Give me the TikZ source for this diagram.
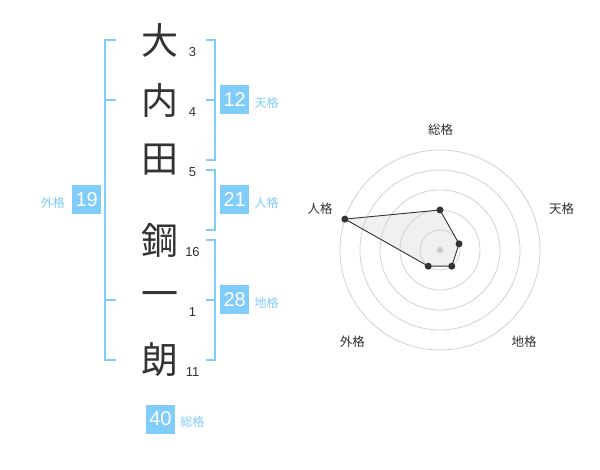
\documentclass[tikz,border=0pt]{standalone}
\usepackage{fontspec}
\setmainfont{Liberation Sans}
\newfontfamily\jpfont{Noto Sans CJK JP}
\usetikzlibrary{positioning}
\usepackage{xcolor}
\definecolor{ink}{RGB}{51,51,51}
\definecolor{kblue}{RGB}{128,204,250}
\definecolor{ringgray}{RGB}{210,210,210}
\definecolor{webfill}{RGB}{240,240,240}
\definecolor{hubgray}{RGB}{200,200,200}

\begin{document}
\begin{tikzpicture}[
    x=1pt, y=-1pt,
    node distance=60pt,
    kanji/.style={inner sep=0pt, text=ink, font=\jpfont\fontsize{37}{37}\selectfont},
    stroke/.style={inner sep=0pt, text=ink, font=\fontsize{13}{13}\selectfont},
    score/.style={rectangle, minimum size=29pt, inner sep=0pt, fill=kblue, text=white, font=\fontsize{20}{20}\selectfont},
    tag/.style={inner sep=0pt, text=kblue, font=\jpfont\fontsize{12}{12}\selectfont},
    axislabel/.style={inner sep=0pt, text=ink, font=\jpfont\fontsize{12.5}{12.5}\selectfont},
    bracket/.style={draw=kblue, line width=2pt},
    ring/.style={draw=ringgray, line width=0.8pt},
    dot/.style={circle, fill=ink, inner sep=0pt, minimum size=7pt}
]
\path[fill=white] (0,0) rectangle (600,470);
\useasboundingbox (0,0) rectangle (600,470);

% Name
\node (dai) [kanji] at (160,40) {大};
\node (uchi) [kanji, below of=dai] {内};
\node (den) [kanji, below of=uchi] {田};
\node (kou) [kanji, below of=den, yshift=-20pt] {鋼};
\node (ichi) [kanji, below of=kou] {一};
\node (rou) [kanji, below of=ichi] {朗};

% Strokes
\node (n1) [stroke, xshift=32.5pt, yshift=-12.5pt] at (dai) {3};
\node (n2) [stroke, xshift=32.5pt, yshift=-12.5pt] at (uchi) {4};
\node (n3) [stroke, xshift=32.5pt, yshift=-12.5pt] at (den) {5};
\node (n4) [stroke, xshift=32.5pt, yshift=-12.5pt] at (kou) {16};
\node (n5) [stroke, xshift=32.5pt, yshift=-12.5pt] at (ichi) {1};
\node (n6) [stroke, xshift=32.5pt, yshift=-12.5pt] at (rou) {11};

% Brackets
\draw [bracket] (116,40) -- (105,40) -- (105,360) -- (116,360);
\draw [bracket] (105,100) -- (116,100);
\draw [bracket] (105,300) -- (116,300);
\draw [bracket] (206,40) -- (215,40) -- (215,160) -- (206,160);
\draw [bracket] (206,100) -- (215,100);
\draw [bracket] (206,170) -- (215,170) -- (215,230) -- (206,230);
\draw [bracket] (206,240) -- (215,240) -- (215,360) -- (206,360);
\draw [bracket] (206,300) -- (215,300);

% Scores
\node (ten) [score] at (234.7,100) {12};
\node (tentag) [tag, right=5pt of ten, yshift=-2.5pt] {天格};
\node (jin) [score] at (234.7,200) {21};
\node (jintag) [tag, right=5pt of jin, yshift=-2.5pt] {人格};
\node (chi) [score] at (234.7,300) {28};
\node (chitag) [tag, right=5pt of chi, yshift=-2.5pt] {地格};
\node (gai) [score] at (86.7,200) {19};
\node (gaitag) [tag, left=7pt of gai, yshift=-2.5pt] {外格};
\node (sou) [score] at (160.5,419) {40};
\node (soutag) [tag, right=5pt of sou, yshift=-2.5pt] {総格};

% Radar
\begin{scope}[shift={(440,250)}, y=1pt]
\coordinate (p1) at (90:40);
\coordinate (p2) at (18:20);
\coordinate (p3) at (-54:20);
\coordinate (p4) at (-126:20);
\coordinate (p5) at (162:100);
\fill [webfill] (p1) -- (p2) -- (p3) -- (p4) -- (p5) -- cycle;
\draw [ring] (0,0) circle (20);
\draw [ring] (0,0) circle (40);
\draw [ring] (0,0) circle (60);
\draw [ring] (0,0) circle (80);
\draw [ring] (0,0) circle (100);
\node (hub) [circle, fill=hubgray, inner sep=0pt, minimum size=6pt] at (0,0) {};
\draw [ink, line width=0.9pt] (p1) -- (p2) -- (p3) -- (p4) -- (p5) -- cycle;
\node (d1) [dot] at (p1) {};
\node (d2) [dot] at (p2) {};
\node (d3) [dot] at (p3) {};
\node (d4) [dot] at (p4) {};
\node (d5) [dot] at (p5) {};
\end{scope}

\node (lsou) [axislabel] at (440.7,130) {総格};
\node (lten) [axislabel] at (561.7,208.3) {天格};
\node (lchi) [axislabel] at (524,341.7) {地格};
\node (lgai) [axislabel] at (352.3,341.7) {外格};
\node (ljin) [axislabel] at (320,208.3) {人格};

\end{tikzpicture}
\end{document}
